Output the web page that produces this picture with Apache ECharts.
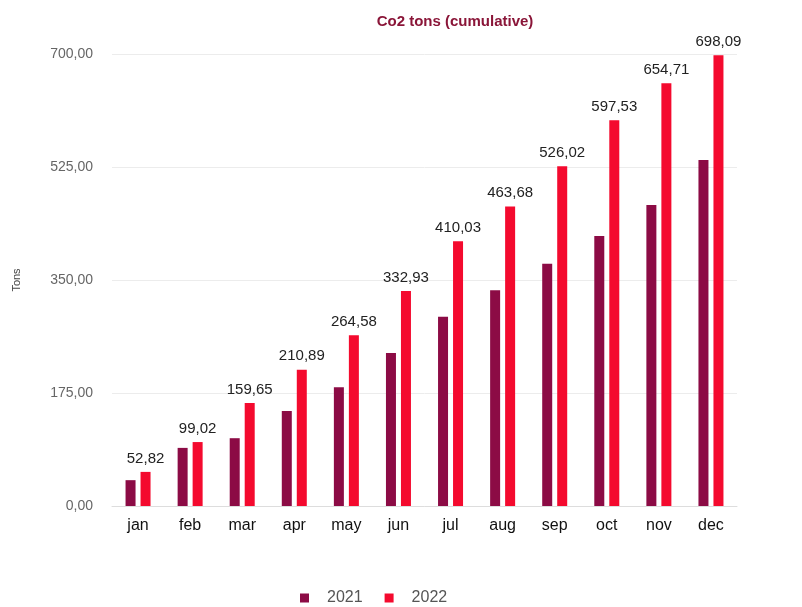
<!DOCTYPE html>
<html><head><meta charset="utf-8">
<script src="https://cdn.jsdelivr.net/npm/echarts@6/dist/echarts.min.js"></script>
<style>html,body{margin:0;padding:0;background:#fff}#c{width:802px;height:607px}</style>
</head><body><div id="c"></div>
<script>
const months = ['jan','feb','mar','apr','may','jun','jul','aug','sep','oct','nov','dec'];
const values2021 = [40, 90, 105, 147, 184, 237, 293, 334, 375, 418, 466, 536];
const values2022 = [52.82, 99.02, 159.65, 210.89, 264.58, 332.93, 410.03, 463.68, 526.02, 597.53, 654.71, 698.09];
const yTicks = [0, 175, 350, 525, 700];
const fmt = v => v.toFixed(2).replace('.', ',');
const chart = echarts.init(document.getElementById('c'));
chart.setOption({
  animation: false,
  title: {text: 'Co2 tons (cumulative)', left: 450, top: 9, textAlign: 'center',
    textStyle: {color: '#8a1538', fontSize: 15, fontWeight: 'bold', fontFamily: 'Liberation Sans'}},
  legend: {top: 590, left: 300, padding: 0, itemWidth: 9, itemHeight: 9, itemGap: 22, icon: 'rect',
    textStyle: {color: '#555', fontSize: 16, fontFamily: 'Liberation Sans', padding: [0, 0, 0, 13]}},
  grid: {left: 112, right: 65, top: 54, bottom: 101},
  xAxis: {type: 'category', data: months,
    axisLine: {lineStyle: {color: '#ddd'}}, axisTick: {show: false},
    axisLabel: {color: '#111', fontSize: 16, margin: 12, fontFamily: 'Liberation Sans'}},
  yAxis: {type: 'value', min: yTicks[0], max: yTicks[yTicks.length - 1], interval: 175, name: 'Tons', nameLocation: 'middle', nameGap: 90,
    nameTextStyle: {color: '#444', fontSize: 11, fontFamily: 'Liberation Sans'},
    axisLabel: {color: '#666', fontSize: 14, margin: 19, fontFamily: 'Liberation Sans', formatter: fmt},
    splitLine: {lineStyle: {color: '#ececec'}}},
  series: [
    {name: '2021', type: 'bar', data: values2021, barWidth: 10, barGap: '50%', itemStyle: {color: '#8c0b45'}},
    {name: '2022', type: 'bar', data: values2022, barWidth: 10, itemStyle: {color: '#f40a2e'},
      label: {show: true, position: 'top', distance: 6, color: '#222', fontSize: 15, fontFamily: 'Liberation Sans', formatter: p => fmt(p.value)}}
  ]
});
</script></body></html>
